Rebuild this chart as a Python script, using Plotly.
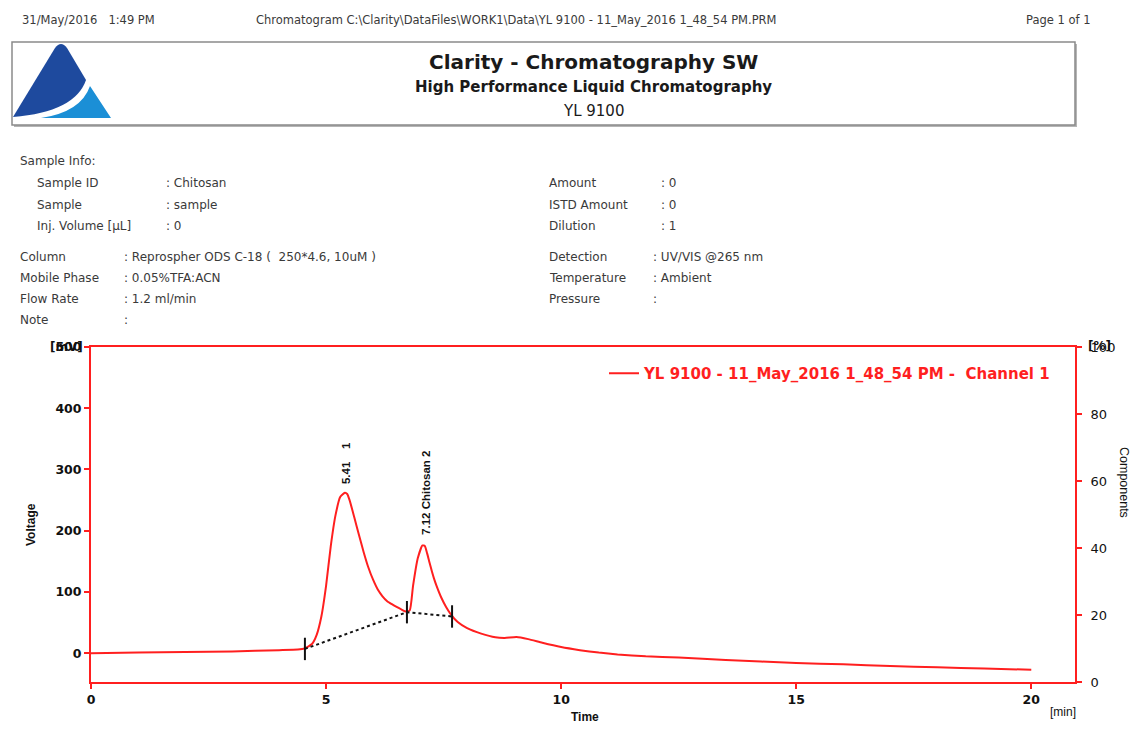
import plotly.graph_objects as go

# ---------------- data ----------------
time_min = [0, 1, 2, 3, 4, 4.4, 4.55, 4.7, 4.8, 4.9, 5.0, 5.1, 5.2, 5.3, 5.4, 5.45, 5.5,
            5.6, 5.7, 5.8, 5.9, 6.0, 6.1, 6.2, 6.3, 6.4, 6.5, 6.6, 6.7, 6.78, 6.85, 6.95,
            7.05, 7.1, 7.15, 7.2, 7.25, 7.3, 7.35, 7.45, 7.55, 7.65, 7.8, 8.0, 8.3, 8.6,
            8.8, 9.05, 9.3, 9.6, 10.0, 10.4, 10.8, 11.2, 11.8, 12.5, 13.5, 15, 16, 17,
            18, 19, 20]
voltage_mv = [0, 1, 2, 3, 5, 6, 8, 15, 30, 60, 110, 175, 225, 255, 262, 260, 250,
              222, 193, 165, 140, 120, 104, 93, 85, 80, 75.5, 71.5, 68, 70, 110, 155,
              176, 175, 163, 148, 134, 121, 110, 91, 76, 64, 51, 41, 32, 26,
              25, 26.5, 23, 17, 10, 5, 1, -2, -5, -7, -11, -16, -18, -21,
              -23, -25, -27]

baseline_t = [4.55, 6.72, 7.68]
baseline_mv = [7, 67, 60]

peak_rt = [5.41, 7.12]
peak_height = [262, 178]
peak_labels = ["5.41\u00a0\u00a0\u00a0\u00a01", "7.12\u00a0Chitosan\u00a02"]

x_ticks = [0, 5, 10, 15, 20]
y_ticks = [0, 100, 200, 300, 400, 500]
y2_ticks = [0, 20, 40, 60, 80, 100]

series_name = "YL 9100 - 11_May_2016 1_48_54 PM -  Channel 1"

info_left_1 = [("Sample ID", ": Chitosan"), ("Sample", ": sample"), ("Inj. Volume [\u00b5L]", ": 0")]
info_left_2 = [("Column", ": Reprospher ODS C-18 (  250*4.6, 10uM )"), ("Mobile Phase", ": 0.05%TFA:ACN"),
               ("Flow Rate", ": 1.2 ml/min"), ("Note", ":")]
info_right_1 = [("Amount", ": 0"), ("ISTD Amount", ": 0"), ("Dilution", ": 1")]
info_right_2 = [("Detection", ": UV/VIS @265 nm"), ("Temperature", ": Ambient"), ("Pressure", ":")]

# ---------------- layout helpers ----------------
W, H = 1131, 744
L, R, T, B = 91, 1075, 347, 682


def PX(px):
    return (px - L) / (R - L)


def PY(py):
    return (B - py) / (B - T)


RED = "#ff1f1f"
TXT = "#3a3a3a"
FONT = "DejaVu Sans"

fig = go.Figure()

fig.add_trace(go.Scatter(
    x=time_min, y=voltage_mv, mode="lines", name=series_name,
    line=dict(color=RED, width=2, shape="spline", smoothing=0.5)))

fig.add_trace(go.Scatter(
    x=baseline_t, y=baseline_mv, mode="lines", showlegend=False,
    line=dict(color="#111111", width=2, dash="dot")))

fig.add_trace(go.Scatter(
    x=baseline_t, y=baseline_mv, mode="markers", showlegend=False,
    marker=dict(symbol="line-ns", size=16, line=dict(color="#111111", width=2))))

fig.add_trace(go.Scatter(x=[None], y=[None], yaxis="y2", showlegend=False))

annotations = []

# peak labels
for rt, h, lab in zip(peak_rt, peak_height, peak_labels):
    annotations.append(dict(x=rt, y=h, xref="x", yref="y", text=lab, textangle=-90,
                            showarrow=False, yanchor="bottom", xanchor="center", yshift=7,
                            font=dict(family="Liberation Sans", size=11.5, color="#111111", weight="bold")))


def txt(x, y, s, size=12, anchor="left", weight="normal", color=TXT, family=FONT, angle=0):
    annotations.append(dict(x=PX(x), y=PY(y), xref="paper", yref="paper", text=s, showarrow=False,
                            xanchor=anchor, yanchor="middle", textangle=angle,
                            font=dict(family=family, size=size, color=color, weight=weight)))


# top header line
txt(20, 20, "31/May/2016\u00a0\u00a0\u00a01:49 PM", size=11.5)
txt(254, 20, "Chromatogram C:\\Clarity\\DataFiles\\WORK1\\Data\\YL 9100 - 11_May_2016 1_48_54 PM.PRM", size=11.5)
txt(1093, 20, "Page 1 of 1", size=11.5, anchor="right")

# title box text
txt(593, 62, "Clarity - Chromatography SW", size=20, anchor="center", weight="bold", color="#1a1a1a")
txt(593, 87, "High Performance Liquid Chromatography", size=15, anchor="center", weight="bold", color="#1a1a1a")
txt(593, 111, "YL 9100", size=15, anchor="center", color="#1a1a1a")

# sample info
txt(18, 161, "Sample Info:")
for i, (k, v) in enumerate(info_left_1):
    y = [183, 205, 226][i]
    txt(35, y, k)
    txt(164, y, v)
for i, (k, v) in enumerate(info_left_2):
    y = [257, 278, 299, 320][i]
    txt(18, y, k)
    txt(122, y, v)
for i, (k, v) in enumerate(info_right_1):
    y = [183, 205, 226][i]
    txt(547, y, k)
    txt(659, y, v)
for i, (k, v) in enumerate(info_right_2):
    y = [257, 278, 299][i]
    txt(547, y, k)
    txt(651, y, v)

# axis titles / units
txt(31, 525, "Voltage", size=12, anchor="center", weight="bold", color="#111111", family="Liberation Sans", angle=-90)
txt(585, 717, "Time", size=12, anchor="center", weight="bold", color="#111111", family="Liberation Sans")
txt(1124, 482, "Components", size=12.5, anchor="center", color="#111111", family="Liberation Sans", angle=90)
txt(1063, 712, "[min]", size=12, anchor="center", color="#111111", family="Liberation Sans")
txt(66, 347, "[mV]", size=12, anchor="center", weight="bold", color="#111111", family="DejaVu Sans")
txt(1099, 346, "[%]", size=12, anchor="center", weight="bold", color="#111111", family="DejaVu Sans")

shapes = []
# header box with shadow
shapes.append(dict(type="rect", xref="paper", yref="paper", x0=PX(14), x1=PX(1077), y0=PY(44), y1=PY(127),
                   line=dict(width=0), fillcolor="#b5b5b5", layer="below"))
shapes.append(dict(type="rect", xref="paper", yref="paper", x0=PX(12), x1=PX(1075), y0=PY(42), y1=PY(125),
                   line=dict(width=1.5, color="#8a8a8a"), fillcolor="white", layer="below"))


def P(a, b):
    return f"{PX(a):.5f},{PY(b):.5f}"


dark_logo = "M " + P(13, 117) + " L " + P(55, 48) + " Q " + P(61, 40) + " " + P(67, 48) + \
            " L " + P(86, 80) + " Q " + P(75, 112) + " " + P(13, 117) + " Z"
light_logo = "M " + P(41, 118) + " Q " + P(81, 112) + " " + P(90, 86) + " L " + P(111, 118) + " Z"
shapes.append(dict(type="path", xref="paper", yref="paper", line=dict(width=0), fillcolor="#1e4a9e",
                   path=dark_logo))
shapes.append(dict(type="path", xref="paper", yref="paper", line=dict(width=0), fillcolor="#1b8fd6",
                   path=light_logo))

fig.update_layout(
    width=W, height=H,
    margin=dict(l=L, r=W - R, t=T, b=H - B, pad=0),
    paper_bgcolor="white", plot_bgcolor="white",
    showlegend=True,
    legend=dict(x=PX(1056), y=PY(357), xanchor="right", yanchor="top", bgcolor="rgba(0,0,0,0)",
                font=dict(family="DejaVu Sans", size=15, color=RED, weight="bold"),
                itemwidth=30),
    xaxis=dict(range=[0, 20.93], tickvals=x_ticks, showgrid=False, zeroline=False,
               showline=True, linecolor=RED, linewidth=2, mirror=True,
               ticks="outside", ticklen=5, tickwidth=2, tickcolor=RED,
               tickfont=dict(family="DejaVu Sans", size=12.5, color="#111111", weight="bold")),
    yaxis=dict(range=[-47, 500], tickvals=y_ticks, showgrid=False, zeroline=False,
               showline=True, linecolor=RED, linewidth=2, mirror=True,
               ticks="outside", ticklen=5, tickwidth=2, tickcolor=RED,
               tickfont=dict(family="DejaVu Sans", size=12.5, color="#111111", weight="bold")),
    yaxis2=dict(range=[0, 100], tickvals=y2_ticks, overlaying="y", side="right", anchor="x",
                showgrid=False, zeroline=False, showline=True, linecolor=RED, linewidth=2,
                ticks="outside", ticklen=5, tickwidth=2, tickcolor=RED, ticklabelstandoff=6,
                tickfont=dict(family="DejaVu Sans", size=13, color="#111111")),
    annotations=annotations,
    shapes=shapes,
)

fig.write_html("out.html")
